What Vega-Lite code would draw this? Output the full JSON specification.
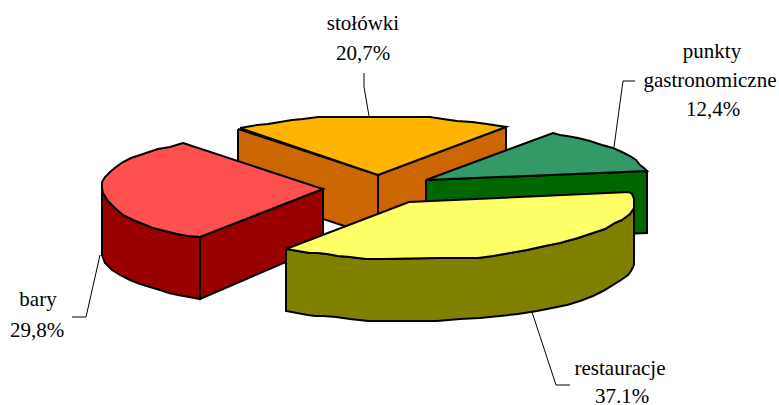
{"$schema":"https://vega.github.io/schema/vega-lite/v6.json","width":779,"height":405,"padding":0,"autosize":"none","background":"white","config":{"view":{"stroke":null}},
"datasets":{"shapes":[
{"p":"a1","k":"orangeSide","s":1,"x":238,"y":129},{"p":"a1","k":"orangeSide","s":2,"x":378,"y":175},{"p":"a1","k":"orangeSide","s":3,"x":378,"y":237},{"p":"a1","k":"orangeSide","s":4,"x":238,"y":191},{"p":"a1","k":"orangeSide","s":5,"x":238,"y":129},
{"p":"a2","k":"orangeSide","s":1,"x":378,"y":175},{"p":"a2","k":"orangeSide","s":2,"x":506,"y":127},{"p":"a2","k":"orangeSide","s":3,"x":506,"y":189},{"p":"a2","k":"orangeSide","s":4,"x":378,"y":237},{"p":"a2","k":"orangeSide","s":5,"x":378,"y":175},
{"p":"a3","k":"orangeTop","s":1,"x":240,"y":128},{"p":"a3","k":"orangeTop","s":2,"x":257,"y":125},{"p":"a3","k":"orangeTop","s":3,"x":268,"y":124},{"p":"a3","k":"orangeTop","s":4,"x":280,"y":122},{"p":"a3","k":"orangeTop","s":5,"x":292,"y":120},{"p":"a3","k":"orangeTop","s":6,"x":303,"y":119},{"p":"a3","k":"orangeTop","s":7,"x":318,"y":117},{"p":"a3","k":"orangeTop","s":8,"x":332,"y":117},{"p":"a3","k":"orangeTop","s":9,"x":430,"y":117},{"p":"a3","k":"orangeTop","s":10,"x":443,"y":119},{"p":"a3","k":"orangeTop","s":11,"x":457,"y":121},{"p":"a3","k":"orangeTop","s":12,"x":472,"y":122},{"p":"a3","k":"orangeTop","s":13,"x":487,"y":124},{"p":"a3","k":"orangeTop","s":14,"x":506,"y":127},{"p":"a3","k":"orangeTop","s":15,"x":378,"y":175},{"p":"a3","k":"orangeTop","s":16,"x":240,"y":128},
{"p":"b1","k":"greenSide","s":1,"x":426,"y":180},{"p":"b1","k":"greenSide","s":2,"x":647,"y":171},{"p":"b1","k":"greenSide","s":3,"x":647,"y":233},{"p":"b1","k":"greenSide","s":4,"x":426,"y":242},{"p":"b1","k":"greenSide","s":5,"x":426,"y":180},
{"p":"b2","k":"greenTop","s":1,"x":426,"y":180},{"p":"b2","k":"greenTop","s":2,"x":553,"y":133},{"p":"b2","k":"greenTop","s":3,"x":560,"y":135},{"p":"b2","k":"greenTop","s":4,"x":567,"y":136},{"p":"b2","k":"greenTop","s":5,"x":578,"y":138},{"p":"b2","k":"greenTop","s":6,"x":590,"y":141},{"p":"b2","k":"greenTop","s":7,"x":602,"y":145},{"p":"b2","k":"greenTop","s":8,"x":613,"y":148},{"p":"b2","k":"greenTop","s":9,"x":622,"y":152},{"p":"b2","k":"greenTop","s":10,"x":630,"y":156},{"p":"b2","k":"greenTop","s":11,"x":636,"y":160},{"p":"b2","k":"greenTop","s":12,"x":640,"y":165},{"p":"b2","k":"greenTop","s":13,"x":644,"y":168},{"p":"b2","k":"greenTop","s":14,"x":647,"y":171},{"p":"b2","k":"greenTop","s":15,"x":426,"y":180},
{"p":"c1","k":"redSide","s":1,"x":102,"y":182},{"p":"c1","k":"redSide","s":2,"x":102,"y":188},{"p":"c1","k":"redSide","s":3,"x":103,"y":193},{"p":"c1","k":"redSide","s":4,"x":108,"y":201},{"p":"c1","k":"redSide","s":5,"x":115,"y":208},{"p":"c1","k":"redSide","s":6,"x":123,"y":215},{"p":"c1","k":"redSide","s":7,"x":133,"y":220},{"p":"c1","k":"redSide","s":8,"x":143,"y":224},{"p":"c1","k":"redSide","s":9,"x":153,"y":228},{"p":"c1","k":"redSide","s":10,"x":165,"y":231},{"p":"c1","k":"redSide","s":11,"x":177,"y":234},{"p":"c1","k":"redSide","s":12,"x":188,"y":236},{"p":"c1","k":"redSide","s":13,"x":200,"y":237},{"p":"c1","k":"redSide","s":14,"x":200,"y":299},{"p":"c1","k":"redSide","s":15,"x":189,"y":297},{"p":"c1","k":"redSide","s":16,"x":178,"y":295},{"p":"c1","k":"redSide","s":17,"x":169,"y":293},{"p":"c1","k":"redSide","s":18,"x":160,"y":290},{"p":"c1","k":"redSide","s":19,"x":150,"y":287},{"p":"c1","k":"redSide","s":20,"x":140,"y":284},{"p":"c1","k":"redSide","s":21,"x":130,"y":280},{"p":"c1","k":"redSide","s":22,"x":120,"y":275},{"p":"c1","k":"redSide","s":23,"x":112,"y":270},{"p":"c1","k":"redSide","s":24,"x":105,"y":263},{"p":"c1","k":"redSide","s":25,"x":102,"y":255},{"p":"c1","k":"redSide","s":26,"x":102,"y":182},
{"p":"c2","k":"redSide","s":1,"x":200,"y":237},{"p":"c2","k":"redSide","s":2,"x":323,"y":189},{"p":"c2","k":"redSide","s":3,"x":323,"y":246},{"p":"c2","k":"redSide","s":4,"x":200,"y":299},{"p":"c2","k":"redSide","s":5,"x":200,"y":237},
{"p":"c3","k":"redTop","s":1,"x":183,"y":143},{"p":"c3","k":"redTop","s":2,"x":170,"y":147},{"p":"c3","k":"redTop","s":3,"x":158,"y":149},{"p":"c3","k":"redTop","s":4,"x":149,"y":152},{"p":"c3","k":"redTop","s":5,"x":140,"y":155},{"p":"c3","k":"redTop","s":6,"x":131,"y":158},{"p":"c3","k":"redTop","s":7,"x":123,"y":162},{"p":"c3","k":"redTop","s":8,"x":116,"y":167},{"p":"c3","k":"redTop","s":9,"x":110,"y":172},{"p":"c3","k":"redTop","s":10,"x":105,"y":177},{"p":"c3","k":"redTop","s":11,"x":102,"y":182},{"p":"c3","k":"redTop","s":12,"x":102,"y":188},{"p":"c3","k":"redTop","s":13,"x":103,"y":193},{"p":"c3","k":"redTop","s":14,"x":108,"y":201},{"p":"c3","k":"redTop","s":15,"x":115,"y":208},{"p":"c3","k":"redTop","s":16,"x":123,"y":215},{"p":"c3","k":"redTop","s":17,"x":133,"y":220},{"p":"c3","k":"redTop","s":18,"x":143,"y":224},{"p":"c3","k":"redTop","s":19,"x":153,"y":228},{"p":"c3","k":"redTop","s":20,"x":165,"y":231},{"p":"c3","k":"redTop","s":21,"x":177,"y":234},{"p":"c3","k":"redTop","s":22,"x":188,"y":236},{"p":"c3","k":"redTop","s":23,"x":200,"y":237},{"p":"c3","k":"redTop","s":24,"x":323,"y":189},{"p":"c3","k":"redTop","s":25,"x":183,"y":143},
{"p":"d1","k":"yellowSide","s":1,"x":286,"y":249},{"p":"d1","k":"yellowSide","s":2,"x":298,"y":251},{"p":"d1","k":"yellowSide","s":3,"x":310,"y":253},{"p":"d1","k":"yellowSide","s":4,"x":318,"y":253},{"p":"d1","k":"yellowSide","s":5,"x":327,"y":254},{"p":"d1","k":"yellowSide","s":6,"x":338,"y":256},{"p":"d1","k":"yellowSide","s":7,"x":350,"y":257},{"p":"d1","k":"yellowSide","s":8,"x":366,"y":259},{"p":"d1","k":"yellowSide","s":9,"x":383,"y":259},{"p":"d1","k":"yellowSide","s":10,"x":437,"y":258},{"p":"d1","k":"yellowSide","s":11,"x":460,"y":258},{"p":"d1","k":"yellowSide","s":12,"x":478,"y":258},{"p":"d1","k":"yellowSide","s":13,"x":493,"y":256},{"p":"d1","k":"yellowSide","s":14,"x":510,"y":253},{"p":"d1","k":"yellowSide","s":15,"x":527,"y":250},{"p":"d1","k":"yellowSide","s":16,"x":545,"y":246},{"p":"d1","k":"yellowSide","s":17,"x":560,"y":243},{"p":"d1","k":"yellowSide","s":18,"x":578,"y":238},{"p":"d1","k":"yellowSide","s":19,"x":593,"y":233},{"p":"d1","k":"yellowSide","s":20,"x":605,"y":229},{"p":"d1","k":"yellowSide","s":21,"x":615,"y":223},{"p":"d1","k":"yellowSide","s":22,"x":622,"y":220},{"p":"d1","k":"yellowSide","s":23,"x":630,"y":214},{"p":"d1","k":"yellowSide","s":24,"x":634,"y":208},{"p":"d1","k":"yellowSide","s":25,"x":634,"y":265},{"p":"d1","k":"yellowSide","s":26,"x":631,"y":271},{"p":"d1","k":"yellowSide","s":27,"x":628,"y":275},{"p":"d1","k":"yellowSide","s":28,"x":621,"y":280},{"p":"d1","k":"yellowSide","s":29,"x":613,"y":285},{"p":"d1","k":"yellowSide","s":30,"x":603,"y":291},{"p":"d1","k":"yellowSide","s":31,"x":593,"y":296},{"p":"d1","k":"yellowSide","s":32,"x":580,"y":301},{"p":"d1","k":"yellowSide","s":33,"x":567,"y":305},{"p":"d1","k":"yellowSide","s":34,"x":552,"y":308},{"p":"d1","k":"yellowSide","s":35,"x":537,"y":311},{"p":"d1","k":"yellowSide","s":36,"x":518,"y":314},{"p":"d1","k":"yellowSide","s":37,"x":500,"y":316},{"p":"d1","k":"yellowSide","s":38,"x":480,"y":318},{"p":"d1","k":"yellowSide","s":39,"x":460,"y":319},{"p":"d1","k":"yellowSide","s":40,"x":437,"y":321},{"p":"d1","k":"yellowSide","s":41,"x":387,"y":321},{"p":"d1","k":"yellowSide","s":42,"x":368,"y":321},{"p":"d1","k":"yellowSide","s":43,"x":350,"y":319},{"p":"d1","k":"yellowSide","s":44,"x":336,"y":317},{"p":"d1","k":"yellowSide","s":45,"x":323,"y":316},{"p":"d1","k":"yellowSide","s":46,"x":315,"y":316},{"p":"d1","k":"yellowSide","s":47,"x":308,"y":315},{"p":"d1","k":"yellowSide","s":48,"x":297,"y":313},{"p":"d1","k":"yellowSide","s":49,"x":286,"y":311},{"p":"d1","k":"yellowSide","s":50,"x":286,"y":249},
{"p":"d2","k":"yellowTop","s":1,"x":286,"y":249},{"p":"d2","k":"yellowTop","s":2,"x":409,"y":202},{"p":"d2","k":"yellowTop","s":3,"x":629,"y":192},{"p":"d2","k":"yellowTop","s":4,"x":632,"y":194},{"p":"d2","k":"yellowTop","s":5,"x":634,"y":199},{"p":"d2","k":"yellowTop","s":6,"x":634,"y":208},{"p":"d2","k":"yellowTop","s":7,"x":630,"y":214},{"p":"d2","k":"yellowTop","s":8,"x":622,"y":220},{"p":"d2","k":"yellowTop","s":9,"x":615,"y":223},{"p":"d2","k":"yellowTop","s":10,"x":605,"y":229},{"p":"d2","k":"yellowTop","s":11,"x":593,"y":233},{"p":"d2","k":"yellowTop","s":12,"x":578,"y":238},{"p":"d2","k":"yellowTop","s":13,"x":560,"y":243},{"p":"d2","k":"yellowTop","s":14,"x":545,"y":246},{"p":"d2","k":"yellowTop","s":15,"x":527,"y":250},{"p":"d2","k":"yellowTop","s":16,"x":510,"y":253},{"p":"d2","k":"yellowTop","s":17,"x":493,"y":256},{"p":"d2","k":"yellowTop","s":18,"x":478,"y":258},{"p":"d2","k":"yellowTop","s":19,"x":460,"y":258},{"p":"d2","k":"yellowTop","s":20,"x":437,"y":258},{"p":"d2","k":"yellowTop","s":21,"x":383,"y":259},{"p":"d2","k":"yellowTop","s":22,"x":366,"y":259},{"p":"d2","k":"yellowTop","s":23,"x":350,"y":257},{"p":"d2","k":"yellowTop","s":24,"x":338,"y":256},{"p":"d2","k":"yellowTop","s":25,"x":327,"y":254},{"p":"d2","k":"yellowTop","s":26,"x":318,"y":253},{"p":"d2","k":"yellowTop","s":27,"x":310,"y":253},{"p":"d2","k":"yellowTop","s":28,"x":298,"y":251},{"p":"d2","k":"yellowTop","s":29,"x":286,"y":249}
],
"leaders":[
{"p":"stolowki","s":1,"x":364,"y":73},{"p":"stolowki","s":2,"x":364,"y":87},{"p":"stolowki","s":3,"x":369,"y":116},
{"p":"punkty","s":1,"x":635,"y":81},{"p":"punkty","s":2,"x":623,"y":81},{"p":"punkty","s":3,"x":614,"y":147},
{"p":"restauracje","s":1,"x":532,"y":312},{"p":"restauracje","s":2,"x":556,"y":385},{"p":"restauracje","s":3,"x":570,"y":385},
{"p":"bary","s":1,"x":100,"y":255},{"p":"bary","s":2,"x":86,"y":317},{"p":"bary","s":3,"x":72,"y":317}
],
"labels":[
{"t":"stołówki","x":363,"y":30},{"t":"20,7%","x":363,"y":60},
{"t":"punkty","x":712,"y":58},{"t":"gastronomiczne","x":710,"y":87},{"t":"12,4%","x":713,"y":116},
{"t":"restauracje","x":620,"y":375},{"t":"37.1%","x":622,"y":403},
{"t":"bary","x":38,"y":306},{"t":"29,8%","x":37,"y":337}
]},
"layer":[
{"data":{"name":"shapes"},"mark":{"type":"line","stroke":"black","strokeWidth":2,"strokeJoin":"miter","interpolate":"linear"},
"encoding":{"x":{"field":"x","type":"quantitative","scale":{"domain":[0,779]},"axis":null},"y":{"field":"y","type":"quantitative","scale":{"domain":[405,0]},"axis":null},"detail":{"field":"p"},"order":{"field":"s"},"fill":{"field":"k","type":"nominal","legend":null,"scale":{"domain":["orangeSide","orangeTop","greenSide","greenTop","redSide","redTop","yellowSide","yellowTop"],"range":["#CC6600","#FFB400","#006600","#339966","#990000","#FF5050","#808000","#FFFF66"]}}}},
{"data":{"name":"leaders"},"mark":{"type":"line","stroke":"black","strokeWidth":1},
"encoding":{"x":{"field":"x","type":"quantitative","scale":{"domain":[0,779]},"axis":null},"y":{"field":"y","type":"quantitative","scale":{"domain":[405,0]},"axis":null},"detail":{"field":"p"},"order":{"field":"s"}}},
{"data":{"name":"labels"},"mark":{"type":"text","font":"Liberation Serif","fontSize":21,"align":"center","baseline":"alphabetic","color":"black"},
"encoding":{"x":{"field":"x","type":"quantitative","scale":{"domain":[0,779]},"axis":null},"y":{"field":"y","type":"quantitative","scale":{"domain":[405,0]},"axis":null},"text":{"field":"t"}}}
]}
